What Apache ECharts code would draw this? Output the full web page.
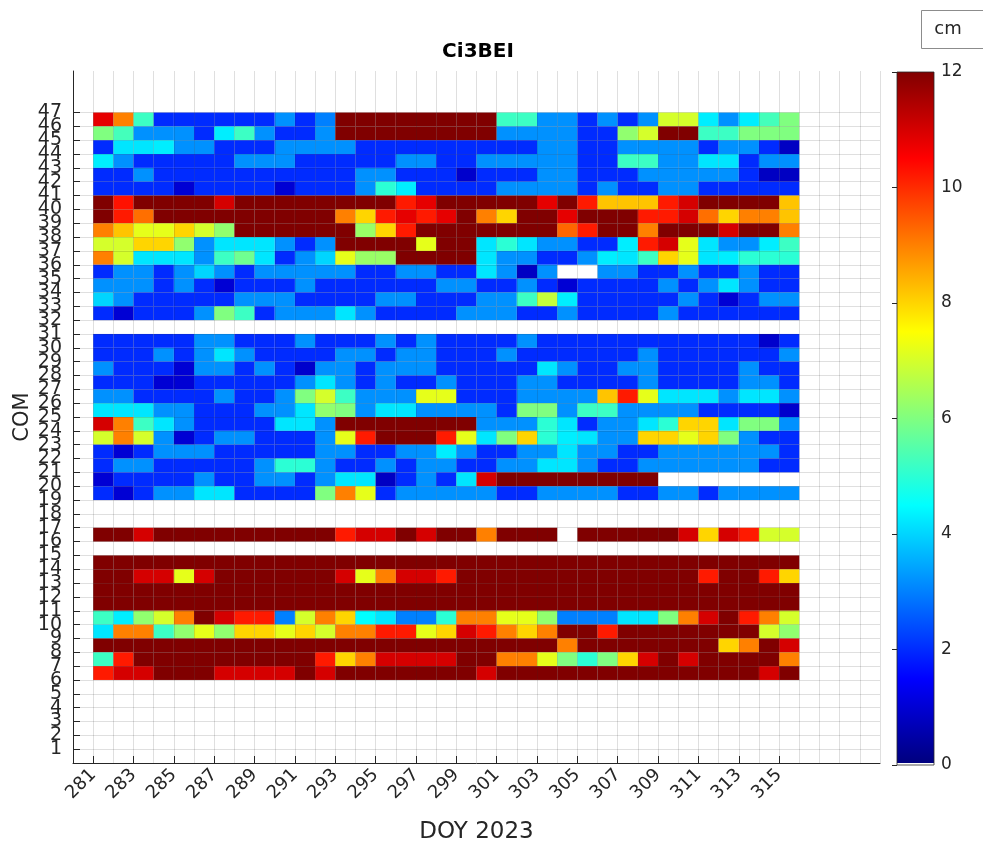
<!DOCTYPE html>
<html>
<head>
<meta charset="utf-8">
<title>Ci3BEI</title>
<script src="https://cdn.jsdelivr.net/npm/echarts@6/dist/echarts.min.js"></script>
<style>
  html, body { margin: 0; padding: 0; background: #ffffff; }
  #chart { width: 983px; height: 849px; }
</style>
</head>
<body>
<div id="chart"></div>
<script>
// Day-of-year columns; each cell covers [day, day + 1]
const days = [281, 282, 283, 284, 285, 286, 287, 288, 289, 290, 291, 292, 293, 294, 295, 296, 297, 298,
              299, 300, 301, 302, 303, 304, 305, 306, 307, 308, 309, 310, 311, 312, 313, 314, 315];

// Tick labels
const xTicks = [281, 283, 285, 287, 289, 291, 293, 295, 297, 299, 301, 303, 305, 307, 309, 311, 313, 315];
const yTicks = [1, 2, 3, 4, 5, 6, 7, 8, 9, 10, 11, 12, 13, 14, 15, 16, 17, 18, 19, 20, 21, 22, 23, 24,
                25, 26, 27, 28, 29, 30, 31, 32, 33, 34, 35, 36, 37, 38, 39, 40, 41, 42, 43, 44, 45, 46, 47];
const cbarTicks = [0, 2, 4, 6, 8, 10, 12];

// Values (cm) per COM level, one entry per day; null = no data
const com46 = [10.8, 9, 5.2, 2, 2, 2, 2, 2, 2, 3.2, 2, 3, 12, 12, 12, 12, 12, 12, 12, 12, 5.2, 5.2, 3.2, 3.2, 2, 3.2, 2, 3.2, 7, 7, 4.3, 3.2, 4.3, 5.3, 6];
const com45 = [6, 5.3, 3.2, 3.2, 3.2, 2, 4.3, 5.2, 3.2, 2, 2, 3.2, 12, 12, 12, 12, 12, 12, 12, 12, 3.2, 3.2, 3.2, 3.2, 2, 2, 6.2, 7, 12, 12, 5.2, 5.2, 6, 6, 6];
const com44 = [2, 4.2, 4.2, 4.3, 3.2, 3.2, 2, 2, 2, 3.2, 3.2, 3.2, 3.2, 2, 2, 2, 2, 2, 2, 2, 2, 2, 3.2, 3.2, 2, 2, 3.2, 3.2, 3.2, 3.2, 2, 3.2, 3.2, 2, 0.8];
const com43 = [4.3, 3.2, 2, 2, 2, 2, 2, 3.2, 3.2, 3.2, 2, 2, 2, 2, 2, 3.2, 3.2, 2, 2, 3.2, 3.2, 3.2, 3.2, 3.2, 2, 2, 5.2, 5.2, 3.2, 3.2, 4.2, 4.2, 2, 3.2, 3.2];
const com42 = [2, 2, 3.2, 2, 2, 2, 2, 2, 2, 2, 2, 2, 2, 3.2, 3.2, 2, 2, 2, 0.9, 2, 2, 2, 3.2, 3.2, 2, 2, 2, 3.2, 3.2, 3.2, 3.2, 3.2, 2, 0.8, 0.8];
const com41 = [2, 2, 2, 2, 1, 2, 2, 2, 2, 1, 2, 2, 2, 3.2, 5, 4.3, 2, 2, 2, 2, 3.2, 3.2, 3.2, 3.2, 2, 3.2, 2, 2, 3.2, 3.2, 2, 2, 2, 2, 2];
const com40 = [12, 10.3, 12, 12, 12, 12, 11, 12, 12, 12, 12, 12, 12, 12, 12, 10.2, 10.8, 12, 12, 12, 12, 12, 10.8, 12, 10.2, 8.2, 8.2, 8.2, 10.2, 11, 12, 12, 12, 12, 8.2];
const com39 = [12, 10.2, 9.2, 12, 12, 12, 12, 12, 12, 12, 12, 12, 9, 8, 10.2, 10.8, 10.2, 10.8, 12, 9, 8, 12, 12, 10.8, 12, 12, 12, 10.2, 10.2, 11, 9.2, 8, 9, 9, 8.2];
const com38 = [9, 8.2, 7.2, 7.2, 8, 7, 6.2, 12, 12, 12, 12, 12, 12, 6.3, 8, 10.2, 12, 12, 12, 12, 12, 12, 12, 9.3, 10.2, 12, 12, 9, 12, 12, 12, 11, 12, 12, 9];
const com37 = [7, 7, 8, 8, 6.2, 3.2, 4.2, 4.2, 4.2, 3.2, 2, 3.2, 12, 12, 12, 12, 7.2, 12, 12, 4.2, 5, 4.2, 3.2, 3.2, 2, 2, 4.3, 10.2, 11, 7.2, 4.2, 3.2, 3.2, 4.3, 5.2];
const com36 = [9, 7, 4.2, 4.2, 4.2, 3.2, 5.2, 5.8, 4.2, 2, 3.2, 4, 7.2, 6.3, 6.3, 12, 12, 12, 12, 4.2, 3.2, 3.2, 2, 2, 3.2, 4.3, 4.2, 5.2, 8, 7.2, 4.2, 4.3, 5, 5, 5];
const com35 = [2, 3.2, 3.2, 2, 3.2, 4, 3.2, 2, 3.2, 3.2, 3.2, 3.2, 3.2, 2, 2, 3.2, 3.2, 2, 2, 4.2, 3.2, 0.8, 3.2, null, null, 3.2, 3.2, 2, 2, 3.2, 2, 2, 3.2, 2, 2];
const com34 = [3.2, 3.2, 3.2, 2, 3.2, 2, 1, 2, 2, 2, 3.2, 2, 2, 2, 2, 2, 2, 3.2, 3.2, 2, 2, 3.2, 2, 1, 2, 2, 2, 2, 3.2, 2, 3.2, 4.2, 3.2, 2, 2];
const com33 = [4, 3.2, 2, 2, 2, 2, 2, 3.2, 3.2, 3.2, 2, 2, 2, 2, 3.2, 3.2, 2, 2, 2, 3.2, 3.2, 5.2, 6.8, 4.3, 2, 2, 2, 2, 2, 3.2, 2, 1, 2, 3.2, 3.2];
const com32 = [2, 1, 2, 2, 2, 3.2, 6, 5.2, 2, 3.2, 3.2, 3.2, 4.2, 3.2, 2, 2, 2, 2, 3.2, 3.2, 3.2, 2, 2, 3.2, 2, 2, 2, 2, 3.2, 2, 2, 2, 2, 2, 2];
const com30 = [2, 2, 2, 2, 2, 3.2, 3.2, 2, 2, 2, 3.2, 2, 2, 2, 3.2, 2, 3.2, 2, 2, 2, 2, 3.2, 2, 2, 2, 2, 2, 2, 2, 2, 2, 2, 2, 0.9, 2];
const com29 = [2, 2, 2, 3.2, 2, 3.2, 4.2, 3.2, 2, 2, 2, 2, 3.2, 3.2, 2, 3.2, 3.2, 2, 2, 2, 3.2, 2, 2, 2, 2, 2, 2, 3.2, 2, 2, 2, 2, 2, 2, 3.2];
const com28 = [3.2, 2, 2, 2, 1, 3.2, 3.2, 2, 3.2, 2, 0.9, 3.2, 3.2, 2, 3.2, 3.2, 3.2, 2, 2, 2, 2, 2, 4.2, 3.2, 2, 2, 3.2, 3.2, 2, 2, 2, 2, 3.2, 2, 2];
const com27 = [2, 2, 2, 1, 1, 2, 2, 2, 2, 2, 3.2, 4.2, 3.2, 2, 3.2, 2, 2, 3.2, 2, 2, 2, 3.2, 3.2, 2, 2, 2, 2, 3.2, 2, 2, 2, 2, 3.2, 3.2, 2];
const com26 = [3.2, 3.2, 2, 2, 2, 2, 3.2, 2, 2, 3.2, 6, 7, 5.2, 3.2, 3.2, 3.2, 7.2, 7.2, 2, 2, 2, 3.2, 3.2, 3.2, 3.2, 8.2, 10.2, 7.2, 4.2, 4.2, 4.2, 3.2, 4.2, 4.2, 3.2];
const com25 = [4.2, 4.2, 4.2, 3.2, 3.2, 2, 2, 2, 3.2, 3.2, 4.2, 6.2, 6, 3.2, 4.2, 4.2, 3.2, 3.2, 3.2, 3.2, 2, 6, 6, 3.2, 5.2, 5.2, 3.2, 3.2, 3.2, 3.2, 2, 2, 2, 2, 0.9];
const com24 = [11, 9, 5.2, 4.2, 3.2, 2, 2, 2, 2, 4.2, 4.2, 3.2, 12, 12, 12, 12, 12, 12, 12, 3.2, 3.2, 3.2, 5, 4.2, 2, 3.2, 3.2, 4.2, 5, 8, 8, 4.2, 6, 6, 3.2];
const com23 = [7, 9, 7, 3.2, 1, 2, 3.2, 3.2, 2, 2, 2, 3.2, 7.2, 10.2, 12, 12, 12, 10.2, 7.2, 4.2, 6, 8, 5, 4.3, 4.2, 3.2, 3.2, 8, 8, 7.2, 8, 6, 3.2, 2, 2];
const com22 = [2, 1, 2, 3.2, 3.2, 3.2, 2, 2, 2, 2, 2, 3.2, 3.2, 2, 2, 3.2, 3.2, 4.3, 3.2, 2, 2, 3.2, 3.2, 4.2, 3.2, 3.2, 2, 2, 3.2, 3.2, 3.2, 3.2, 3.2, 3.2, 2];
const com21 = [2, 3.2, 3.2, 2, 2, 2, 2, 2, 3.2, 5, 5, 3.2, 2, 2, 3.2, 2, 3.2, 3.2, 2, 2, 3.2, 3.2, 4.2, 4.2, 3.2, 2, 2, 3.2, 3.2, 3.2, 3.2, 3.2, 3.2, 2, 2];
const com20 = [1, 2, 2, 2, 2, 3.2, 2, 2, 3.2, 3.2, 2, 3.2, 4.2, 4.2, 0.8, 2, 3.2, 2, 4.2, 11, 12, 12, 12, 12, 12, 12, 12, 12, null, null, null, null, null, null, null];
const com19 = [2, 1, 2, 3.2, 3.2, 4.2, 4.2, 2, 2, 2, 2, 6, 9, 7.2, 2, 3.2, 3.2, 3.2, 3.2, 3.2, 2, 2, 3.2, 3.2, 3.2, 3.2, 2, 2, 3.2, 3.2, 2, 3.2, 3.2, 3.2, 3.2];
const com16 = [12, 12, 11, 12, 12, 12, 12, 12, 12, 12, 12, 12, 10.2, 11, 11, 12, 11, 12, 12, 9, 12, 12, 12, null, 12, 12, 12, 12, 12, 11, 8, 11, 10.2, 7, 7];
const com14 = [12, 12, 12, 12, 12, 12, 12, 12, 12, 12, 12, 12, 12, 12, 12, 12, 12, 12, 12, 12, 12, 12, 12, 12, 12, 12, 12, 12, 12, 12, 12, 12, 12, 12, 12];
const com13 = [12, 12, 11, 11, 7.2, 11, 12, 12, 12, 12, 12, 12, 11, 7.2, 9, 11, 11, 10.2, 12, 12, 12, 12, 12, 12, 12, 12, 12, 12, 12, 12, 10.2, 12, 12, 10.2, 8];
const com12 = [12, 12, 12, 12, 12, 12, 12, 12, 12, 12, 12, 12, 12, 12, 12, 12, 12, 12, 12, 12, 12, 12, 12, 12, 12, 12, 12, 12, 12, 12, 12, 12, 12, 12, 12];
const com11 = [12, 12, 12, 12, 12, 12, 12, 12, 12, 12, 12, 12, 12, 12, 12, 12, 12, 12, 12, 12, 12, 12, 12, 12, 12, 12, 12, 12, 12, 12, 12, 12, 12, 12, 12];
const com10 = [5.2, 4.3, 6.2, 7, 9, 12, 11, 10.2, 10.2, 3, 7, 9, 8, 4.5, 4.2, 3, 3, 5, 9, 9, 7.2, 7.2, 6.2, 3, 3, 3, 4.2, 4.2, 6, 9, 11, 12, 10.2, 9, 7];
const com9 = [4.2, 9, 9, 5.2, 6.2, 7.2, 6.2, 8, 8, 7.2, 8, 7, 9, 9, 10.2, 10.2, 7.2, 8, 11, 10.2, 9, 8, 9, 12, 12, 10.2, 12, 12, 12, 12, 12, 12, 12, 7, 6.2];
const com8 = [12, 12, 12, 12, 12, 12, 12, 12, 12, 12, 12, 12, 12, 12, 12, 12, 12, 12, 12, 12, 12, 12, 12, 9, 12, 12, 12, 12, 12, 12, 12, 8, 9, 12, 11];
const com7 = [5.2, 10.2, 12, 12, 12, 12, 12, 12, 12, 12, 12, 10.2, 8, 9, 11, 11, 11, 11, 12, 12, 9, 9, 7.2, 6, 5, 6, 8, 11, 12, 11, 12, 12, 12, 12, 9];
const com6 = [10.2, 11, 11, 12, 12, 12, 11, 11, 11, 11, 12, 11, 12, 12, 12, 12, 12, 12, 12, 11, 12, 12, 12, 12, 12, 12, 12, 12, 12, 12, 12, 12, 12, 11, 12];

// COM level (lower edge of the cell row) paired with its values
const comRows = [
  [46, com46], [45, com45], [44, com44], [43, com43], [42, com42], [41, com41], [40, com40],
  [39, com39], [38, com38], [37, com37], [36, com36], [35, com35], [34, com34], [33, com33],
  [32, com32], [30, com30], [29, com29], [28, com28], [27, com27], [26, com26], [25, com25],
  [24, com24], [23, com23], [22, com22], [21, com21], [20, com20], [19, com19], [16, com16],
  [14, com14], [13, com13], [12, com12], [11, com11], [10, com10], [9, com9], [8, com8],
  [7, com7], [6, com6]
];

// Jet colour map, 0 to 12 cm
const jet = ['#00007f', '#0000ff', '#0080ff', '#00ffff', '#80ff80', '#ffff00', '#ff8000', '#ff0000', '#800000'];
const INK = '#262626';
const GRID = 'rgba(38,38,38,0.15)';
const FONT = 'DejaVu Sans';

// The COM labels are packed tighter than their glyph height, so odd and even
// labels go on two overlaid axes to keep every one of them visible.
const yOdd = yTicks.filter(function (v) { return v % 2 === 1; });
const yEven = yTicks.filter(function (v) { return v % 2 === 0; });

const cells = [];
comRows.forEach(function (row) {
  const com = row[0];
  row[1].forEach(function (v, i) {
    if (v !== null) cells.push([days[i], com, v]);
  });
});

function drawCell(params, api) {
  const d = api.value(0);
  const c = api.value(1);
  const p0 = api.coord([d, c + 1]);
  const p1 = api.coord([d + 1, c]);
  return {
    type: 'rect',
    shape: { x: p0[0], y: p0[1], width: p1[0] - p0[0], height: p1[1] - p0[1] },
    style: { fill: api.visual('color') }
  };
}

function drawColorbar(params, api) {
  const top = api.coord([api.value(0), api.value(3)]);
  const bottom = api.coord([api.value(2), api.value(1)]);
  const stops = [{ offset: 0, color: '#ffffff' }, { offset: 0.004, color: '#ffffff' }];
  jet.forEach(function (c, i) {
    stops.push({ offset: Math.max(i / (jet.length - 1), 0.004), color: c });
  });
  return {
    type: 'rect',
    shape: { x: top[0], y: top[1], width: bottom[0] - top[0], height: bottom[1] - top[1] },
    style: {
      fill: new echarts.graphic.LinearGradient(0, 1, 0, 0, stops),
      stroke: INK,
      lineWidth: 0.8
    }
  };
}

const yLabelStyle = {
  fontSize: 19, color: INK, margin: 11, hideOverlap: false,
  showMinLabel: true, showMaxLabel: true, fontFamily: FONT
};

const chart = echarts.init(document.getElementById('chart'), null, { renderer: 'canvas' });

chart.setOption({
  backgroundColor: '#ffffff',
  animation: false,
  textStyle: { fontFamily: FONT },
  grid: [
    { left: 73, top: 71, width: 807, height: 694 },
    { left: 897, top: 72, width: 37, height: 693 }
  ],
  xAxis: [
    {
      gridIndex: 0, type: 'value', min: 280, max: 320, interval: 1, z: 3,
      axisLine: { show: true, onZero: false, lineStyle: { color: INK, width: 1 } },
      axisTick: { show: false },
      axisLabel: { show: false },
      splitLine: { show: true, lineStyle: { color: GRID, width: 1 } },
      name: 'DOY 2023', nameLocation: 'middle', nameGap: 58, nameMoveOverlap: false,
      nameTextStyle: { fontSize: 23, color: INK, fontFamily: FONT }
    },
    {
      gridIndex: 0, type: 'value', min: 280, max: 320, position: 'bottom', z: 3,
      axisLine: { show: false },
      splitLine: { show: false },
      axisTick: { show: true, inside: true, length: 7, customValues: xTicks, lineStyle: { color: INK } },
      axisLabel: {
        customValues: xTicks, rotate: 45, fontSize: 18, color: INK, margin: 9,
        hideOverlap: false, showMinLabel: true, showMaxLabel: true, fontFamily: FONT
      }
    },
    { gridIndex: 1, type: 'value', min: 0, max: 1, show: false }
  ],
  yAxis: [
    {
      gridIndex: 0, type: 'value', min: 0, max: 50, interval: 1, position: 'left', z: 3,
      axisLine: { show: true, onZero: false, lineStyle: { color: INK, width: 1 } },
      axisTick: { show: true, inside: true, length: 7, customValues: yTicks, lineStyle: { color: INK } },
      axisLabel: Object.assign({ customValues: yOdd }, yLabelStyle),
      splitLine: { show: true, lineStyle: { color: GRID, width: 1 } },
      name: 'COM', nameLocation: 'middle', nameGap: 40, nameMoveOverlap: false,
      nameTextStyle: { fontSize: 21, color: INK, fontFamily: FONT }
    },
    {
      gridIndex: 1, type: 'value', min: 0, max: 12, interval: 2, position: 'right', z: 3,
      axisLine: { show: false },
      axisTick: { show: true, inside: true, length: 5, customValues: cbarTicks, lineStyle: { color: INK } },
      axisLabel: {
        customValues: cbarTicks, fontSize: 17, color: INK, margin: 7,
        showMinLabel: true, showMaxLabel: true, fontFamily: FONT
      },
      splitLine: { show: false }
    },
    {
      gridIndex: 0, type: 'value', min: 0, max: 50, position: 'left', z: 3,
      axisLine: { show: false, onZero: false },
      axisTick: { show: false },
      splitLine: { show: false },
      axisLabel: Object.assign({ customValues: yEven }, yLabelStyle)
    }
  ],
  visualMap: {
    type: 'continuous', show: false, min: 0, max: 12, dimension: 2, seriesIndex: 0,
    inRange: { color: jet }
  },
  series: [
    {
      type: 'custom', name: 'Ci3BEI', xAxisIndex: 0, yAxisIndex: 0, z: 1,
      renderItem: drawCell, encode: { x: 0, y: 1 }, data: cells
    },
    {
      type: 'custom', name: 'colorbar', xAxisIndex: 2, yAxisIndex: 1, z: 1, silent: true,
      renderItem: drawColorbar, encode: { x: [0, 2], y: [1, 3] }, data: [[0, 0, 1, 12]]
    }
  ],
  graphic: [
    {
      type: 'text', x: 478, y: 52, z: 10,
      style: { text: 'Ci3BEI', fontSize: 20, fontWeight: 'bold', fontFamily: FONT, fill: '#000000', align: 'center', verticalAlign: 'middle' }
    },
    {
      type: 'rect', z: 10,
      shape: { x: 921.5, y: 10.5, width: 70, height: 38 },
      style: { fill: '#ffffff', stroke: '#8c8c8c', lineWidth: 1 }
    },
    {
      type: 'text', x: 948, y: 29, z: 11,
      style: { text: 'cm', fontSize: 18, fontFamily: FONT, fill: INK, align: 'center', verticalAlign: 'middle' }
    }
  ]
});
</script>
</body>
</html>
